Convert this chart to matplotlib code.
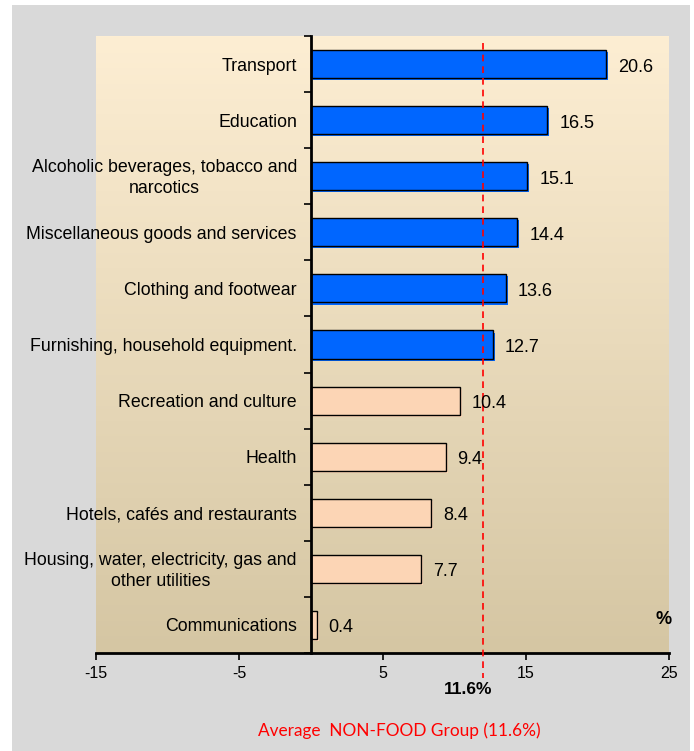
import numpy as np
import matplotlib
matplotlib.use("Agg")
import matplotlib.pyplot as plt
import matplotlib.patheffects as pe
import matplotlib.transforms as mtrans
from matplotlib.colors import LinearSegmentedColormap
from matplotlib.ticker import FixedLocator

categories = [
    "Transport",
    "Education",
    "Alcoholic beverages, tobacco and\nnarcotics",
    "Miscellaneous goods and services",
    "Clothing and footwear",
    "Furnishing, household equipment.",
    "Recreation and culture",
    "Health",
    "Hotels, cafés and restaurants",
    "Housing, water, electricity, gas and\nother utilities",
    "Communications",
]
values = [20.6, 16.5, 15.1, 14.4, 13.6, 12.7, 10.4, 9.4, 8.4, 7.7, 0.4]
average = 11.6
xticks = [-15, -5, 5, 15, 25]

BLUE = "#0066FF"
PEACH = "#FCD5B5"

fig = plt.figure(figsize=(6.94, 7.51), dpi=100)
fig.patch.set_facecolor("white")
# gray panel
fig.patches.append(plt.Rectangle((12/694, 0), (690-12)/694, 1-5/751,
                                 transform=fig.transFigure, facecolor="#D9D9D9",
                                 edgecolor="none", zorder=-5))
fig.text(0.005, 1.0 + 3.5/751, "Figure 6: Non-food group: year-on-year change by components",
         color="#0000FF", fontsize=13, fontweight="bold", va="baseline", ha="left")

ax = fig.add_axes([96/694, 1-653/751, (669-96)/694, (653-36)/751], zorder=2)
n = len(categories)
ax.set_xlim(-15, 25)
ax.set_ylim(n - 0.5, -0.5)

# gradient background
cmap = LinearSegmentedColormap.from_list("bg", ["#FDEED3", "#D5C6A3"])
grad = np.linspace(0, 1, 256).reshape(-1, 1)
ax.imshow(grad, cmap=cmap, aspect="auto", extent=[0, 1, 0, 1],
          transform=ax.transAxes, zorder=0)

y = np.arange(n)
colors = [BLUE if v > average else PEACH for v in values]
bars = ax.barh(y, values, height=0.5, color=colors, edgecolor="black",
               linewidth=1.0, zorder=3)
for b, c in zip(bars, colors):
    b.set_path_effects([pe.SimplePatchShadow(offset=(1.5, -1.5), shadow_rgbFace=c, alpha=1.0),
                        pe.Normal()])

for yi, v in zip(y, values):
    ax.annotate(f"{v:.1f}", xy=(v, yi), xytext=(12, -3), textcoords="offset pixels",
                ha="left", va="center", fontsize=13, family="Liberation Sans", zorder=5)

# average line (drawn shape sits slightly right of the value in the original)
line_tr = mtrans.offset_copy(ax.get_xaxis_transform(), fig=fig, x=6, y=0, units="dots")
ax.plot([average, average], [1.0 - 7/617, -25/617], transform=line_tr,
        color="#FF0000", linestyle=(0, (4, 3)), linewidth=1.2, clip_on=False, zorder=4)

# spines
for s in ["top", "right"]:
    ax.spines[s].set_visible(False)
ax.spines["left"].set_position(("data", 0))
ax.spines["left"].set_linewidth(2)
ax.spines["bottom"].set_linewidth(2)
ax.spines["left"].set_zorder(6)

ax.set_yticks(y)
ax.set_yticklabels([])
ax.tick_params(axis="y", which="major", length=0, pad=0)
ax.yaxis.set_minor_locator(FixedLocator(np.arange(-0.5, n, 1.0)))
ax.tick_params(axis="y", which="minor", length=5, width=1.2, direction="out")
for yi, c in zip(y, categories):
    ax.annotate(c, xy=(0, yi), xycoords="data", xytext=(-14, -2),
                textcoords="offset pixels", ha="right", va="center",
                multialignment="center", fontsize=12.8, family="Liberation Sans",
                linespacing=1.3, zorder=5)

ax.set_xticks(xticks)
ax.set_xticklabels([str(t) for t in xticks], fontsize=11.5,
                   family=["Liberation Sans Narrow", "Liberation Sans"])
ax.tick_params(axis="x", length=5, width=1.2, direction="out", pad=4)

ax.text(1.005, 0.055, "%", transform=ax.transAxes, ha="right", va="center",
        fontsize=13, fontweight="bold", family="Liberation Sans")
ax.annotate("11.6%", xy=(average, 0), xycoords=("data", "axes fraction"),
            xytext=(-9, -36), textcoords="offset pixels", ha="center", va="center",
            fontsize=12.5, fontweight="bold",
            family=["Liberation Sans Narrow", "Liberation Sans"], annotation_clip=False)

fig.text(399/694, 1-731/751, "Average  NON-FOOD Group (11.6%)", color="#FF0000",
         fontsize=12.4, family="Lato", ha="center", va="center")

fig.savefig("out.png", dpi=100)
